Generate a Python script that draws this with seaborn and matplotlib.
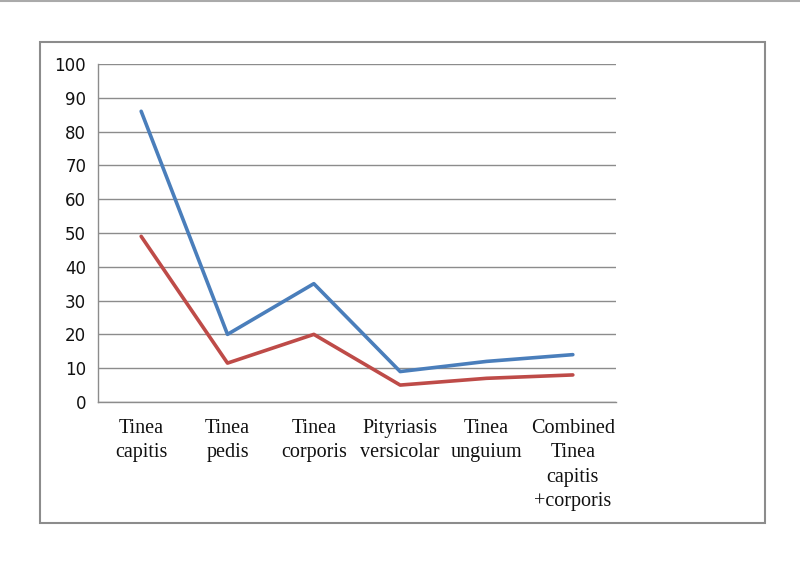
import pandas as pd
import numpy as np
import matplotlib.pyplot as plt
import seaborn as sns
from matplotlib.patches import Rectangle
from matplotlib.lines import Line2D

# data
categories = ["Tinea\ncapitis", "Tinea\npedis", "Tinea\ncorporis", "Pityriasis\nversicolar",
              "Tinea\nunguium", "Combined\nTinea\ncapitis\n+corporis"]
series_a = [86, 20, 35, 9, 12, 14]
series_b = [49, 11.5, 20, 5, 7, 8]

df = pd.DataFrame({
    "pos": list(range(len(categories))) * 2,
    "value": series_a + series_b,
    "series": ["a"] * len(categories) + ["b"] * len(categories),
})

sns.set_style("white")
fig = plt.figure(figsize=(8, 5.66), dpi=100)
ax = fig.add_axes([0.1225, 0.2898, 0.6475, 0.5972])

sns.lineplot(data=df, x="pos", y="value", hue="series",
             palette={"a": "#4a7ebb", "b": "#be4b48"}, linewidth=2.6,
             legend=False, ax=ax)

ax.set_xlim(-0.5, len(categories) - 0.5)
ax.set_ylim(0, 100)
ax.set_yticks(np.arange(0, 101, 10))
ax.yaxis.grid(True, color="#8c8c8c", linewidth=1)
ax.set_axisbelow(True)

ax.set_xticks(np.arange(-0.5, len(categories), 1))
ax.set_xticklabels([])
ax.set_xticks(range(len(categories)), minor=True)
ax.set_xticklabels(categories, minor=True, fontsize=14.5, family="Liberation Serif",
                   linespacing=1.4, va="top", color="#111111")
ax.tick_params(axis="x", which="major", length=5, color="#8c8c8c", direction="out")
ax.tick_params(axis="x", which="minor", length=0, pad=12)
ax.tick_params(axis="y", length=5, color="#8c8c8c", direction="out", labelsize=12)
for lab in ax.get_yticklabels():
    lab.set_color("#111111")

for s in ["top", "right"]:
    ax.spines[s].set_visible(False)
for s in ["left", "bottom"]:
    ax.spines[s].set_color("#8c8c8c")
    ax.spines[s].set_linewidth(1)

ax.set_xlabel("")
ax.set_ylabel("")

# outer chart border and top rule
fig.patches.append(Rectangle((0.05, 0.076), 0.906, 0.85, transform=fig.transFigure,
                             fill=False, edgecolor="#8c8c8c", linewidth=1.5))
fig.lines.append(Line2D([0, 1], [0.998, 0.998], transform=fig.transFigure,
                        color="#aaaaaa", linewidth=1.5))

fig.savefig("out.png", dpi=100)
